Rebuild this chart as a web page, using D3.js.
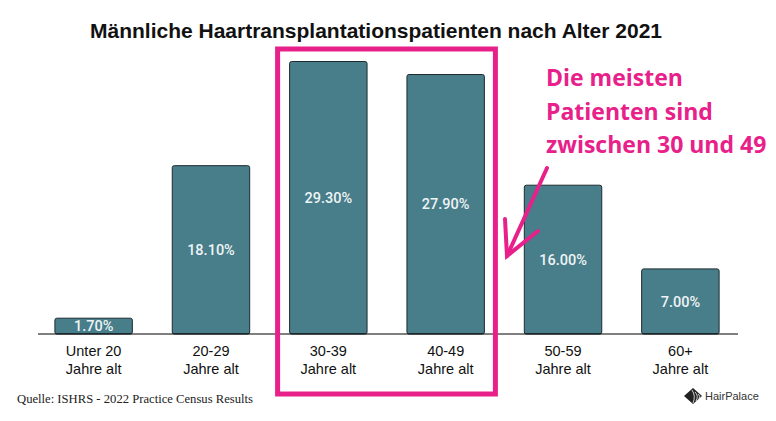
<!DOCTYPE html>
<html>
<head>
<meta charset="utf-8">
<script src="https://cdn.jsdelivr.net/npm/d3@7"></script>
<style>
	body { margin: 0; background: #fff; }
	svg { display: block; }
</style>
</head>
<body>
<script>
// data
var categories = ["Unter 20", "20-29", "30-39", "40-49", "50-59", "60+"];
var subLabels = ["Jahre alt", "Jahre alt", "Jahre alt", "Jahre alt", "Jahre alt", "Jahre alt"];
var values = [1.7, 18.1, 29.3, 27.9, 16.0, 7.0];
var highlight = ["30-39", "40-49"];
var noteLines = ["Die meisten", "Patienten sind", "zwischen 30 und 49"];

var width = 776, height = 421;

var svg = d3.select("body").append("svg")
	.attr("width", width)
	.attr("height", height);

// scales
var x = d3.scaleBand()
	.domain(categories)
	.range([15, 759])
	.padding(0.34);

var y = d3.scaleLinear()
	.domain([0, 30])
	.range([334, 55]);

// title
svg.append("text")
	.attr("x", 376)
	.attr("y", 38)
	.attr("text-anchor", "middle")
	.style("font-family", "'Liberation Sans Narrow', 'Liberation Sans', Arial, sans-serif")
	.style("font-weight", "bold")
	.style("font-size", "21px")
	.attr("textLength", 572)
	.attr("lengthAdjust", "spacingAndGlyphs")
	.attr("fill", "#111")
	.text("Männliche Haartransplantationspatienten nach Alter 2021");

// bars
var bar = svg.selectAll(".bar")
	.data(values)
	.enter().append("g")
	.attr("class", "bar");

bar.append("rect")
	.attr("x", function(d, i) { return x(categories[i]); })
	.attr("y", function(d) { return y(d); })
	.attr("width", x.bandwidth())
	.attr("height", function(d) { return y(0) - y(d); })
	.attr("rx", 2)
	.attr("fill", "#487d8a")
	.attr("stroke", "#1d2b2f")
	.attr("stroke-width", 1);

// value labels in the middle of each bar
bar.append("text")
	.attr("x", function(d, i) { return x(categories[i]) + x.bandwidth() / 2; })
	.attr("y", function(d) { return (y(d) + y(0)) / 2; })
	.attr("dy", ".36em")
	.attr("text-anchor", "middle")
	.style("font-family", "Roboto, 'Noto Sans', sans-serif")
	.style("font-weight", "500")
	.style("font-size", "14.5px")
	.attr("fill", "#eef4f5")
	.text(function(d) { return d.toFixed(2) + "%"; });

// x axis
var axis = svg.append("g")
	.attr("transform", "translate(0," + y(0) + ")")
	.call(d3.axisBottom(x).tickSize(0).tickPadding(0));

axis.select(".domain").remove();
axis.append("line")
	.attr("x1", 38)
	.attr("x2", 738)
	.attr("stroke", "#000")
	.attr("stroke-width", 1);

axis.selectAll(".tick text").remove();
axis.selectAll(".tick").each(function(d, i) {
	var t = d3.select(this).append("text")
		.attr("text-anchor", "middle")
		.attr("fill", "#111")
		.style("font-family", "'Liberation Sans', Arial, sans-serif")
		.style("font-size", "14.5px");
	t.append("tspan").attr("x", 0).attr("y", 22).text(d);
	t.append("tspan").attr("x", 0).attr("y", 40).text(subLabels[i]);
});

// highlight frame around the two largest groups
var pink = "#e8208a";
var hx0 = x(highlight[0]) - 12, hx1 = x(highlight[1]) + x.bandwidth() + 11;
svg.append("rect")
	.attr("x", hx0)
	.attr("y", 49)
	.attr("width", hx1 - hx0)
	.attr("height", 345)
	.attr("fill", "none")
	.attr("stroke", pink)
	.attr("stroke-width", 5);

// note
svg.append("text")
	.attr("x", 546)
	.attr("y", 86)
	.attr("fill", pink)
	.style("font-family", "'Open Sans', 'Noto Sans', sans-serif")
	.style("font-weight", "bold")
	.style("font-size", "23px")
	.selectAll("tspan")
	.data(noteLines)
	.enter().append("tspan")
	.attr("x", 546)
	.attr("dy", function(d, i) { return i ? 33.5 : 0; })
	.text(function(d) { return d; });

// arrow
var arrow = svg.append("g")
	.attr("stroke", pink)
	.attr("stroke-width", 4)
	.attr("stroke-linecap", "round")
	.attr("fill", "none");
arrow.append("line").attr("x1", 547).attr("y1", 168).attr("x2", 507).attr("y2", 256);
arrow.append("polyline").attr("points", "505,219 507,256 538,231");

// source
svg.append("text")
	.attr("x", 17)
	.attr("y", 403)
	.style("font-family", "'Liberation Serif', 'Times New Roman', serif")
	.style("font-size", "12.5px")
	.attr("textLength", 236)
	.attr("lengthAdjust", "spacingAndGlyphs")
	.attr("fill", "#222")
	.text("Quelle: ISHRS - 2022 Practice Census Results");

// logo
var logo = svg.append("g").attr("transform", "translate(693,396)");
logo.append("path")
	.attr("d", "M-9,0 L0,-8 L9,0 L0,8 Z")
	.attr("fill", "#222");
logo.append("path")
	.attr("d", "M-1,-6 Q3,0 0,7 M2,-4 Q6,0 3,5 M5,-2 Q8,0 6,3")
	.attr("stroke", "#fff")
	.attr("stroke-width", 0.8)
	.attr("fill", "none");
logo.append("text")
	.attr("x", 12)
	.attr("y", 4)
	.style("font-family", "'Liberation Sans', Arial, sans-serif")
	.style("font-size", "11px")
	.attr("fill", "#333")
	.text("HairPalace");
</script>
</body>
</html>
